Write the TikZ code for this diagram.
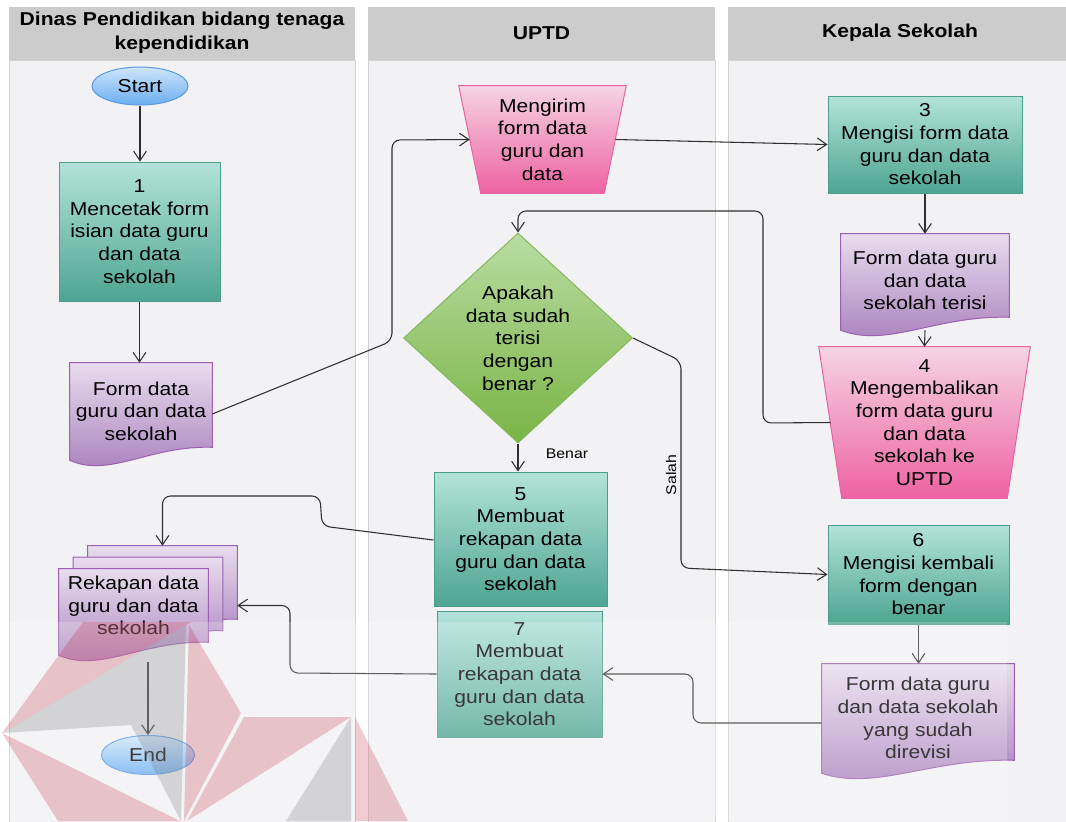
\documentclass[tikz,border=0pt]{standalone}
\usepackage{fontspec}
\setmainfont{Liberation Sans}[FakeStretch=1.13]
\usetikzlibrary{arrows.meta,shapes.geometric,calc}

\definecolor{laneHead}{HTML}{CCCCCC}
\definecolor{laneBody}{HTML}{F2F2F4}
\definecolor{laneEdge}{HTML}{D2D2D4}
\definecolor{wire}{HTML}{303030}
\definecolor{tealTop}{HTML}{B3E3DB}
\definecolor{tealBot}{HTML}{4EA592}
\definecolor{tealEdge}{HTML}{4C9E8B}
\definecolor{lilacTop}{HTML}{E8DCEE}
\definecolor{lilacBot}{HTML}{A67CBA}
\definecolor{lilacEdge}{HTML}{9C5FB1}
\definecolor{rosTop}{HTML}{F5D4E3}
\definecolor{rosBot}{HTML}{EE62A3}
\definecolor{rosEdge}{HTML}{E8649F}
\definecolor{limeTop}{HTML}{B9DCA2}
\definecolor{limeBot}{HTML}{79B445}
\definecolor{limeEdge}{HTML}{86B85E}
\definecolor{skyTop}{HTML}{CFE5FA}
\definecolor{skyBot}{HTML}{6AAEF2}
\definecolor{skyEdge}{HTML}{5A9BE2}
\definecolor{markRed}{RGB}{190,20,45}
\definecolor{markGrey}{RGB}{110,110,115}

\pgfdeclarelayer{lanes}
\pgfdeclarelayer{outlines}
\pgfdeclarelayer{stamp}
\pgfsetlayers{lanes,outlines,main,stamp}

% one drawing unit = one pixel of the layout
\def\pxu{0.75pt}

\tikzset{
  txt/.style={font=\fontsize{14}{17}\selectfont, align=center, inner sep=0pt, text=black},
  small/.style={font=\fontsize{10.5}{12}\selectfont, inner sep=0pt, text=black},
  headtxt/.style={font=\bfseries\fontsize{14}{18}\selectfont, align=center, inner sep=0pt, text=black},
  wh/.style 2 args={minimum width=#1*\pxu, minimum height=#2*\pxu},
  procbox/.style={txt, rectangle, draw=tealEdge, line width=0.75pt, top color=tealTop, bottom color=tealBot},
  terminal/.style={txt, ellipse, draw=skyEdge, line width=0.75pt, top color=skyTop, bottom color=skyBot},
  decision/.style={txt, diamond, draw=limeEdge, line width=0.75pt, top color=limeTop, bottom color=limeBot},
  frame/.style={txt, rectangle},
  docfill/.style={draw=lilacEdge, line width=0.75pt, top color=lilacTop, bottom color=lilacBot},
  manfill/.style={draw=rosEdge, line width=0.75pt, top color=rosTop, bottom color=rosBot},
  conn/.style={draw=wire, line width=0.8pt, rounded corners=6pt, -{Straight Barb[length=7pt,width=9.5pt]}},
  plain/.style={draw=wire, line width=0.8pt, rounded corners=6pt},
}

% document symbol with a wavy lower edge, drawn around a frame node
\newcommand\docoutline[1]{%
  \path[docfill] (#1.north west) -- (#1.north east) -- (#1.south east)
    .. controls ($(#1.south east)!0.44!(#1.south west)+(0,-2)$)
    and ($(#1.south west)!0.28!(#1.south east)+(0,31)$)
    .. ($(#1.south west)+(0,13)$) -- cycle;}

% manual operation symbol (wide top, narrow bottom)
\newcommand\manoutline[2]{%
  \path[manfill] (#1.north west) -- (#1.north east)
    -- ($(#1.south east)+(-#2,0)$) -- ($(#1.south west)+(#2,0)$) -- cycle;}

\begin{document}
\begin{tikzpicture}[x=0.75pt,y=-0.75pt]
\useasboundingbox (0,0) rectangle (1066,821);

% swimlanes
\begin{pgfonlayer}{lanes}
  \fill[white] (0,0) rectangle (1066,821);
  \path[fill=laneBody, draw=laneEdge, line width=0.6pt] (9,60) rectangle (355,830);
  \path[fill=laneBody, draw=laneEdge, line width=0.6pt] (368,60) rectangle (715,830);
  \path[fill=laneBody, draw=laneEdge, line width=0.6pt] (728,60) rectangle (1075,830);
  \fill[laneHead] (9,7) rectangle (355,60);
  \fill[laneHead] (368,7) rectangle (715,60);
  \fill[laneHead] (728,7) rectangle (1075,60);
\end{pgfonlayer}

\node[headtxt] (h1) at (182,33) {Dinas Pendidikan bidang tenaga\\kependidikan};
\node[headtxt] (h2) at (541.5,33) {UPTD};
\node[headtxt] (h3) at (900,33) {Kepala Sekolah};

% Dinas Pendidikan lane
\node[terminal, wh={96}{38}] (start) at (140,86) {Start};
\node[procbox, wh={161}{139}] (p1) at (139.5,231.5) {1\\Mencetak form\\isian data guru\\dan data\\sekolah};
\node[frame, wh={142}{84}] (d1) at (141,405) {};
\node[txt] (d1t) at ($(d1)+(0,6)$) {Form data\\guru dan data\\sekolah};

\node[frame, wh={149}{73}] (mb) at (162.5,582.5) {};
\node[frame, wh={149}{73}] (mm) at (148,594) {};
\node[frame, wh={149}{73}] (m) at (133.5,605.5) {};
\node[txt] (mt) at (m) {Rekapan data\\guru dan data\\sekolah};
\node[terminal, wh={93}{39}] (end) at (148,755) {End};

% UPTD lane
\node[frame, wh={167}{107}] (t1) at (542.5,139.5) {Mengirim\\form data\\guru dan\\data};
\node[decision, wh={229}{210}] (dec) at (518,338) {Apakah\\data sudah\\terisi\\dengan\\benar ?};
\node[procbox, wh={173}{134}] (p5) at (520.5,539) {5\\Membuat\\rekapan data\\guru dan data\\sekolah};
\node[procbox, wh={165}{126}] (p7) at (519.5,674) {7\\Membuat\\rekapan data\\guru dan data\\sekolah};

% Kepala Sekolah lane
\node[procbox, wh={194}{97}] (p3) at (925,144.5) {3\\Mengisi form data\\guru dan data\\sekolah};
\node[frame, wh={168}{83}] (d2) at (925,275.5) {};
\node[txt] (d2t) at ($(d2)+(0,5)$) {Form data guru\\dan data\\sekolah terisi};
\node[frame, wh={211}{151}] (t4) at (924.5,422.5) {4\\Mengembalikan\\form data guru\\dan data\\sekolah ke\\UPTD};
\node[procbox, wh={181}{99}] (p6) at (918.5,574.5) {6\\Mengisi kembali\\form dengan\\benar};
\node[frame, wh={192}{96}] (d3) at (918,712) {};
\node[txt] (d3t) at ($(d3)+(0,6)$) {Form data guru\\dan data sekolah\\yang sudah\\direvisi};

% symbol outlines behind the texts
\begin{pgfonlayer}{outlines}
  \docoutline{d1}
  \docoutline{mb}
  \docoutline{mm}
  \docoutline{m}
  \docoutline{d2}
  \docoutline{d3}
  \manoutline{t1}{22}
  \manoutline{t4}{23}
\end{pgfonlayer}

% flow
\draw[conn] (start.south) -- (start.south |- p1.north);
\draw[conn] (p1.south) -- (p1.south |- d1.north);
\draw[conn] ($(d1.east)+(0,9)$) -- (392,341) -- (392,140) -- ($(t1.west)+(11,0)$);
\draw[conn] ($(t1.east)+(-11,0)$) -- (p3.west);
\draw[conn] (p3.south) -- (d2.north);
\draw[conn] ($(d2.south)+(0,13)$) -- (t4.north);
\draw[conn] ($(t4.west)+(12,0)$) -- (763,423) -- (763,211) -- (518,211) -- (dec.north);
\draw[conn] (dec.south) -- (dec.south |- p5.north);
\node[small] (benar) at (567,454) {Benar};
\draw[conn] (dec.east) -- (681,361) -- (681,568) -- (p6.west);
\node[small, rotate=90] (salah) at (671,475) {Salah};
\draw[conn] ($(p5.west)+(0,1)$) -- (322,526) -- (320,496) -| (mb.north);
\draw[conn] (p7.west) -- (290,673) |- (m.east -| mb.east);
\draw[conn] (p6.south) -- (p6.south |- d3.north);
\draw[conn] ($(d3.west)+(0,11)$) -- (693,723) |- (p7.east);
\draw[conn] ($(m.south)+(14.5,20)$) -- (end.north);

% faint stamp over the lower part
\begin{pgfonlayer}{stamp}
  \fill[white, opacity=0.22] (0,622) rectangle (1007,821);
  \fill[markRed, opacity=0.22] (2,733) -- (83,622) -- (191,622) -- cycle;
  \fill[markGrey, opacity=0.24] (2,733) -- (186,625) -- (131,725) -- cycle;
  \fill[markGrey, opacity=0.24] (131,725) -- (186,625) -- (181,821) -- cycle;
  \fill[markRed, opacity=0.22] (2,733) -- (180,821) -- (58,821) -- cycle;
  \fill[markRed, opacity=0.22] (189,625) -- (241,713) -- (184,821) -- cycle;
  \fill[markRed, opacity=0.22] (244,717) -- (351,717) -- (187,821) -- cycle;
  \fill[markGrey, opacity=0.24] (351,717) -- (286,821) -- (351,821) -- cycle;
  \fill[markRed, opacity=0.22] (355,717) -- (408,821) -- (355,821) -- cycle;
\end{pgfonlayer}
\end{tikzpicture}
\end{document}
